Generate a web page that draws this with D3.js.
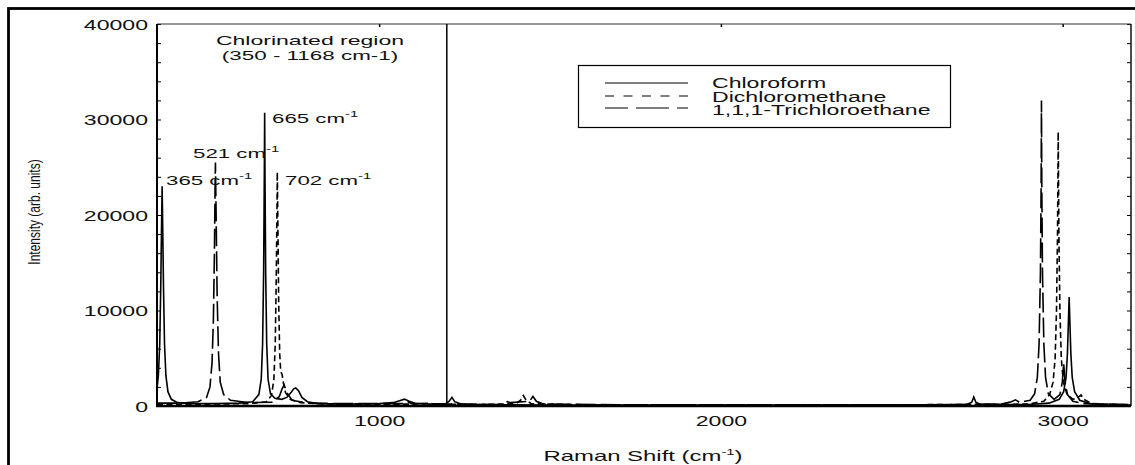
<!DOCTYPE html>
<html>
<head>
<meta charset="utf-8">
<script src="https://cdn.jsdelivr.net/npm/d3@7"></script>
<style>
  body { margin: 0; background: #fff; }
  svg text { font-family: "Liberation Sans", Arial, sans-serif; fill: #111; }
</style>
</head>
<body>
<div id="chart"></div>
<script>
// Spectra: [Raman shift (cm-1), intensity]
const chloroform = [
  [350, 1800], [354, 3200], [358, 6500], [361, 12500], [363, 18000], [365, 23000], [367, 18000],
  [369, 12500], [372, 6500], [376, 3200], [382, 1500], [392, 700], [410, 350], [450, 250],
  [520, 250], [590, 300], [630, 450], [648, 1200], [655, 2800], [659, 6500], [662, 14000],
  [664, 24000], [665, 30700], [666, 24000], [668, 14000], [671, 6500], [675, 2800], [682, 1300],
  [695, 800], [715, 700], [730, 900], [742, 1400], [750, 1800], [756, 1900], [764, 1600],
  [774, 900], [790, 450], [820, 250], [900, 200], [1000, 250], [1040, 350], [1060, 550],
  [1074, 720], [1088, 500], [1105, 280], [1150, 200], [1195, 250], [1205, 500], [1213, 900],
  [1221, 450], [1240, 200], [1320, 120], [1500, 100], [2000, 100], [2600, 120], [2720, 150],
  [2734, 400], [2740, 950], [2746, 400], [2760, 150], [2900, 150], [2960, 300], [2990, 700],
  [3003, 1500], [3010, 3000], [3014, 5500], [3017, 9000], [3019, 11400], [3021, 9000],
  [3024, 5500], [3028, 3000], [3035, 1500], [3050, 600], [3080, 250], [3130, 120], [3200, 100]
];

const dichloromethane = [
  [350, 200], [500, 200], [620, 250], [670, 450], [685, 1100], [692, 2800], [696, 6500],
  [699, 13500], [701, 20500], [702, 24500], [704, 18000], [706, 11000], [709, 5500], [712, 3600],
  [716, 3300], [720, 2400], [726, 1400], [740, 700], [770, 350], [850, 200], [1100, 200],
  [1150, 300], [1160, 200], [1300, 150], [1400, 250], [1414, 600], [1422, 1100], [1430, 600],
  [1445, 250], [1600, 120], [2500, 120], [2900, 200], [2945, 500], [2962, 1200], [2972, 2500],
  [2978, 5000], [2982, 10000], [2985, 18000], [2987, 28700], [2989, 18000], [2992, 10000],
  [2996, 5000], [3002, 2500], [3012, 1300], [3030, 700], [3045, 900], [3054, 1150], [3062, 700],
  [3085, 250], [3200, 120]
];

const trichloroethane = [
  [350, 300], [420, 300], [470, 450], [495, 900], [505, 2000], [511, 4500], [515, 9000],
  [518, 16000], [520, 23000], [521, 25500], [523, 20000], [526, 11500], [530, 5500], [535, 2500],
  [545, 1200], [565, 600], [620, 350], [690, 400], [708, 1000], [716, 1800], [722, 2200],
  [730, 1400], [745, 600], [790, 300], [900, 250], [1070, 250], [1084, 450], [1095, 250],
  [1200, 200], [1360, 150], [1375, 450], [1385, 350], [1440, 500], [1450, 1000], [1460, 500],
  [1480, 200], [1700, 120], [2600, 120], [2820, 200], [2850, 450], [2862, 650], [2875, 350],
  [2890, 500], [2905, 600], [2918, 1300], [2926, 3000], [2931, 6500], [2935, 14000],
  [2937, 23000], [2938, 32000], [2939, 23000], [2941, 14000], [2945, 6500], [2950, 3000],
  [2958, 1300], [2975, 700], [2992, 1200], [2999, 2500], [3003, 4500], [3007, 2500],
  [3014, 1200], [3030, 500], [3060, 250], [3200, 150]
];

const seriesNames = ["Chloroform", "Dichloromethane", "1,1,1-Trichloroethane"];
const xTicks = [1000, 2000, 3000];
const yTicks = [0, 10000, 20000, 30000, 40000];
const yMinorTicks = d3.range(0, 40001, 2000);

// annotated peaks
const peakLabels = ["365 cm", "521 cm", "665 cm", "702 cm"];
const regionEnd = 1198;

// figure is a horizontally stretched scan
const S = 1.65;

const width = 1135, height = 465;
const mLeft = 157, mRight = 1131, mTop = 24, mBottom = 406;

const svg = d3.select("#chart").append("svg")
  .attr("width", width)
  .attr("height", height);

const x = d3.scaleLinear().domain([350, 3200]).range([mLeft, mRight]);
const y = d3.scaleLinear().domain([0, 40000]).range([mBottom, mTop]);

// outer frame (runs off the page on right / bottom)
svg.append("rect")
  .attr("x", 8.5).attr("y", 8.5)
  .attr("width", 1300).attr("height", 700)
  .attr("fill", "none").attr("stroke", "#000").attr("stroke-width", 2.8);

// stretched text helper; parts are strings or {up: "..."} superscripts
function sText(g, px, py, anchor, size, parts, k = S) {
  const t = g.append("g")
    .attr("transform", `translate(${px},${py}) scale(${k},1)`)
    .append("text")
    .attr("text-anchor", anchor)
    .style("font-size", size + "px");
  let raised = false;
  parts.forEach(p => {
    if (typeof p === "string") {
      t.append("tspan").attr("dy", raised ? 6 : null).text(p);
      raised = false;
    } else {
      t.append("tspan").attr("dy", -6).style("font-size", "9px").text(p.up);
      raised = true;
    }
  });
  return t;
}

// minor ticks, inward, left and right
svg.append("g")
  .attr("transform", `translate(${mLeft},0)`)
  .call(d3.axisLeft(y).tickValues(yMinorTicks).tickSize(-4).tickFormat(""))
  .call(g => g.select(".domain").remove())
  .call(g => g.selectAll("text").remove())
  .selectAll("line").attr("stroke", "#000").attr("stroke-width", 1);

svg.append("g")
  .attr("transform", `translate(${mRight},0)`)
  .call(d3.axisRight(y).tickValues(yMinorTicks).tickSize(-4).tickFormat(""))
  .call(g => g.select(".domain").remove())
  .call(g => g.selectAll("text").remove())
  .selectAll("line").attr("stroke", "#000").attr("stroke-width", 1);

svg.append("g")
  .attr("transform", `translate(0,${mTop})`)
  .call(d3.axisTop(x).tickValues(xTicks).tickSize(-3).tickFormat(""))
  .call(g => g.select(".domain").remove())
  .call(g => g.selectAll("text").remove())
  .selectAll("line").attr("stroke", "#000").attr("stroke-width", 1.5);

// y labels
const yAxis = svg.append("g")
  .attr("transform", `translate(${mLeft},0)`)
  .call(d3.axisLeft(y).tickValues(yTicks).tickSize(0).tickPadding(9).tickFormat(d3.format("d")));
yAxis.select(".domain").remove();
yAxis.selectAll("text")
  .attr("x", null).attr("dy", "0.36em")
  .attr("transform", `translate(-9,0) scale(${S},1)`)
  .style("font-size", "14px")
  .style("font-family", "'Liberation Sans', Arial, sans-serif")
  .attr("fill", "#111");

// x labels
const xAxis = svg.append("g")
  .attr("transform", `translate(0,${mBottom})`)
  .call(d3.axisBottom(x).tickValues(xTicks).tickSize(0).tickPadding(10).tickFormat(d3.format("d")));
xAxis.select(".domain").remove();
xAxis.selectAll("text")
  .attr("transform", `scale(${S},1)`)
  .style("font-size", "14px")
  .style("font-family", "'Liberation Sans', Arial, sans-serif")
  .attr("fill", "#111");

// spectra
const line = d3.line().x(d => x(d[0])).y(d => y(d[1]));
const styles = [
  { data: chloroform, dash: null },
  { data: dichloromethane, dash: "6,3.5" },
  { data: trichloroethane, dash: "20,5" }
];
styles.forEach(s => {
  svg.append("path")
    .datum(s.data)
    .attr("d", line)
    .attr("fill", "none")
    .attr("stroke", "#000")
    .attr("stroke-width", 1.6)
    .attr("stroke-dasharray", s.dash);
});

// plot frame
svg.append("line").attr("x1", mLeft).attr("x2", mRight).attr("y1", mTop).attr("y2", mTop)
  .attr("stroke", "#333").attr("stroke-width", 1.2);
svg.append("line").attr("x1", mRight).attr("x2", mRight).attr("y1", mTop).attr("y2", mBottom)
  .attr("stroke", "#111").attr("stroke-width", 1.5);
svg.append("line").attr("x1", mLeft).attr("x2", mLeft).attr("y1", mTop).attr("y2", mBottom + 1)
  .attr("stroke", "#000").attr("stroke-width", 2);
svg.append("line").attr("x1", mLeft - 1).attr("x2", mRight).attr("y1", mBottom).attr("y2", mBottom)
  .attr("stroke", "#000").attr("stroke-width", 2.5);

// chlorinated region divider
svg.append("line")
  .attr("x1", x(regionEnd)).attr("x2", x(regionEnd))
  .attr("y1", mTop).attr("y2", mBottom)
  .attr("stroke", "#000").attr("stroke-width", 1.5);

sText(svg, 310, 45, "middle", 12.8, ["Chlorinated region"], 1.8);
sText(svg, 310, 59.5, "middle", 12.8, ["(350 - 1168 cm-1)"], 1.75);

// peak labels
const labelPos = [[166, 185], [193, 158], [272, 123], [285, 185]];
peakLabels.forEach((t, i) => {
  sText(svg, labelPos[i][0], labelPos[i][1], "start", 13.5, [t, { up: "-1" }]);
});

// axis titles
sText(svg, 643, 461, "middle", 14.5, ["Raman Shift (cm", { up: "-1" }, ")"]);

svg.append("g")
  .attr("transform", "translate(40,212) rotate(-90) scale(1,1.3)")
  .append("text")
  .attr("text-anchor", "middle")
  .style("font-size", "12px")
  .text("Intensity (arb. units)");

// legend
const legend = svg.append("g");
legend.append("rect")
  .attr("x", 578.5).attr("y", 65.5)
  .attr("width", 372).attr("height", 62)
  .attr("fill", "#fff").attr("stroke", "#000").attr("stroke-width", 1.2);

const legendDash = [null, "9,9.5", "33,8"];
const legendOffset = [0, 0, 10];
const rowLineY = [83, 96, 108];
const rowTextY = [88, 101.5, 115];
seriesNames.forEach((name, i) => {
  legend.append("line")
    .attr("x1", 605).attr("x2", 688)
    .attr("y1", rowLineY[i]).attr("y2", rowLineY[i])
    .attr("stroke", "#000").attr("stroke-width", 1.2)
    .attr("stroke-dasharray", legendDash[i])
    .attr("stroke-dashoffset", legendOffset[i]);
  sText(legend, 712, rowTextY[i], "start", 14, [name]);
});
</script>
</body>
</html>
